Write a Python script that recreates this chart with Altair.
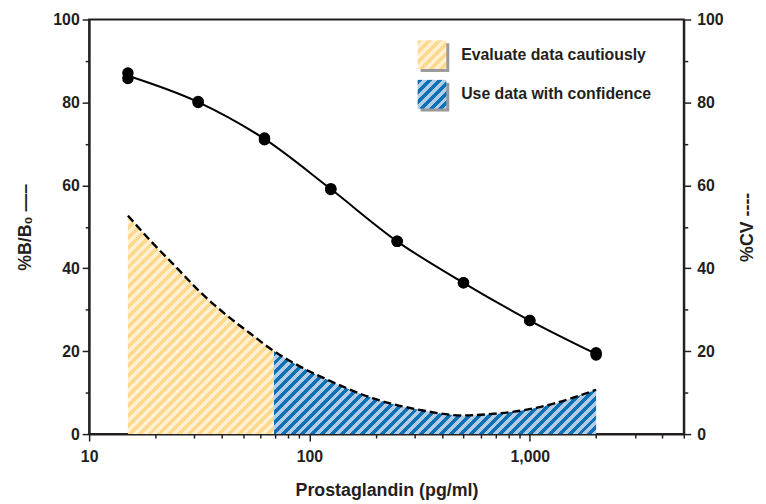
import json
import math
import altair as alt
import pandas as pd

# ---------------- data ----------------
std_conc = [15, 31.25, 62.5, 125, 250, 500, 1000, 2000]
bb0_rep1 = [87.1, 80.2, 71.4, 59.2, 46.5, 36.5, 27.4, 19.6]
bb0_rep2 = [85.8, 80.0, 71.0, 59.0, 46.5, 36.5, 27.4, 19.1]

cv_conc = [15, 19.25, 24.9, 32.3, 41.8, 54.1, 69, 90.7, 128, 195, 327, 494, 647, 920, 1294, 2000]
cv_vals = [52.7, 46.3, 40.2, 34.0, 28.8, 24.2, 20.0, 16.3, 12.5, 8.6, 5.7, 4.5, 4.8, 5.7, 7.4, 10.7]
split_conc = 69

zones = ["Evaluate data cautiously", "Use data with confidence"]
shade_keys = ["shadow 1", "shadow 2"]

x_ticks = [10, 20, 30, 40, 50, 60, 70, 80, 90,
           100, 200, 300, 400, 500, 600, 700, 800, 900,
           1000, 2000, 3000, 4000, 5000]
y_ticks = list(range(0, 101, 10))

# ---------------- styling ----------------
W, H = 601, 419
X_MIN, X_MAX = 10, 5000
INK = "#231f20"
FONT = "Liberation Sans"
Y_LIGHT, Y_DARK = "#fff0d0", "#fdd88e"
B_LIGHT, B_DARK = "#b4cbe6", "#0d71b6"
SHADOW = "#9a9a9a"


def stripes(c1, c2, w, h, period=10.0):
    k = (w + h) / (w * w + h * h)
    n = (w + h) / period
    stops = []
    i = 0
    while i / n < 1:
        a = i / n
        b = min((i + 0.5) / n, 1.0)
        c = min((i + 1) / n, 1.0)
        stops += [{"offset": round(a, 4), "color": c1}, {"offset": round(b, 4), "color": c1},
                  {"offset": round(b, 4), "color": c2}, {"offset": round(c, 4), "color": c2}]
        i += 1
    return {"gradient": "linear", "x1": 0, "y1": 0,
            "x2": round(k * w, 4), "y2": round(k * h, 4), "stops": stops}


px_dec = W / math.log10(X_MAX / X_MIN)
cv_df = pd.DataFrame({"conc": cv_conc, "cv": cv_vals})
yel_df = cv_df[cv_df.conc <= split_conc]
blu_df = cv_df[cv_df.conc >= split_conc]

yel_w = px_dec * math.log10(yel_df.conc.max() / yel_df.conc.min())
yel_h = yel_df.cv.max() * H / 100
blu_w = px_dec * math.log10(blu_df.conc.max() / blu_df.conc.min())
blu_h = blu_df.cv.max() * H / 100

grad_y = stripes(Y_DARK, Y_LIGHT, yel_w, yel_h)
grad_b = stripes(B_DARK, B_LIGHT, blu_w, blu_h)
SW = 29
grad_leg_y = stripes(Y_DARK, Y_LIGHT, SW, SW)
grad_leg_b = stripes(B_DARK, B_LIGHT, SW, SW)

pts_df = pd.DataFrame({"conc": std_conc * 2, "bb0": bb0_rep1 + bb0_rep2})
curve_df = pd.DataFrame({"conc": std_conc,
                         "bb0": [(a + b) / 2 for a, b in zip(bb0_rep1, bb0_rep2)]})
legend_df = pd.DataFrame({"zone": zones, "shade": shade_keys})

# ---------------- axes ----------------
major_test = "indexof([10, 100, 1000], datum.value) >= 0"
x_axis = alt.Axis(
    values=x_ticks,
    labelExpr=f"{major_test} ? format(datum.value, ',') : ''",
    tickSize={"condition": {"test": major_test, "value": 7}, "value": 4},
    labelOverlap=False, labelFlush=False, labelPadding=8,
    title="Prostaglandin (pg/ml)", titleY=62, titleBaseline="alphabetic",
    titleX=W / 2, titleAlign="center",
)
x_enc = alt.X("conc:Q",
              scale=alt.Scale(type="log", domain=[X_MIN, X_MAX], nice=False),
              axis=x_axis)

y_common = dict(
    values=y_ticks,
    labelExpr="datum.value % 20 === 0 ? datum.label : ''",
    tickSize={"condition": {"test": "datum.value % 20 === 0", "value": 7}, "value": 4},
    labelOverlap=False, labelFlush=False, format="d",
    titleAngle=270, titleAlign="center", titleBaseline="middle",
    titleY=H / 2,
)
left_axis = alt.Axis(orient="left", title="%B/B₀ —–", titleX=-64,
                     labelPadding=3, **y_common)
right_axis = alt.Axis(orient="right", title="%CV ----", titleX=64,
                      labelPadding=6, **y_common)

y_scale = dict(domain=[0, 100], nice=False)

# ---------------- CV layer (right axis) ----------------
area_y = alt.Chart(yel_df).mark_area(fill=grad_y, interpolate="monotone").encode(
    x=x_enc, y=alt.Y("cv:Q", scale=alt.Scale(**y_scale), axis=right_axis))
area_b = alt.Chart(blu_df).mark_area(fill=grad_b, interpolate="monotone").encode(
    x=x_enc, y=alt.Y("cv:Q"))
cv_line = alt.Chart(cv_df).mark_line(color="black", strokeWidth=2.4,
                                     strokeDash=[8, 4], interpolate="monotone").encode(
    x=x_enc, y=alt.Y("cv:Q"))
cv_layer = alt.layer(area_y, area_b, cv_line)

# ---------------- B/B0 layer (left axis) ----------------
bb_line = alt.Chart(curve_df).mark_line(color="black", strokeWidth=2,
                                        interpolate="monotone").encode(
    x=x_enc, y=alt.Y("bb0:Q", scale=alt.Scale(**y_scale), axis=left_axis))
bb_pts = alt.Chart(pts_df).mark_circle(size=135, color="black", opacity=1).encode(
    x=x_enc, y=alt.Y("bb0:Q"))

LX, LY = 332, 21
leg_common = dict(
    title=None, orient="none", padding=0, symbolType="square",
    symbolSize=SW * SW, rowPadding=11, labelOffset=15,
    labelFont=FONT, labelFontSize=16, labelFontWeight="bold",
    labelColor=INK, labelLimit=400, symbolStrokeWidth=0,
    symbolStrokeColor="transparent", symbolOpacity=1,
)
fill_expr = (f"datum.value === '{zones[0]}' ? {json.dumps(grad_leg_y)} : "
             f"{json.dumps(grad_leg_b)}")
main_leg = alt.Legend(legendX=LX, legendY=LY, zindex=3,
                      symbolFillColor={"expr": fill_expr}, **leg_common)
shadow_leg = alt.Legend(legendX=LX + 3, legendY=LY + 3, zindex=1, labelExpr="''",
                        symbolFillColor=SHADOW, **leg_common)

# invisible carrier mark: it only feeds the two legends
dummy = alt.Chart(legend_df).mark_point(size=0, filled=True, opacity=0).encode(
    fill=alt.Fill("zone:N", legend=None),
    shape=alt.Shape("zone:N", scale=alt.Scale(domain=zones, range=["square", "square"]),
                    legend=main_leg),
    size=alt.Size("shade:N", scale=alt.Scale(domain=shade_keys, range=[SW * SW, SW * SW]),
                  legend=shadow_leg),
)
bb_layer = alt.layer(bb_line, bb_pts, dummy)

chart = alt.layer(cv_layer, bb_layer).resolve_scale(y="independent").properties(
    width=W, height=H,
    autosize=alt.AutoSizeParams(type="none"),
    padding={"left": 82, "top": 9, "right": 75, "bottom": 68},
).configure(font=FONT).configure_view(
    stroke=INK, strokeWidth=2
).configure_axis(
    grid=False, domainColor=INK, domainWidth=2, tickColor=INK, tickWidth=1.5,
    labelFont=FONT, labelFontSize=16, labelFontWeight="bold", labelColor=INK,
    titleFont=FONT, titleFontSize=18, titleFontWeight="bold", titleColor=INK,
)

chart.save("out.html", embed_options={"renderer": "svg", "actions": False})
